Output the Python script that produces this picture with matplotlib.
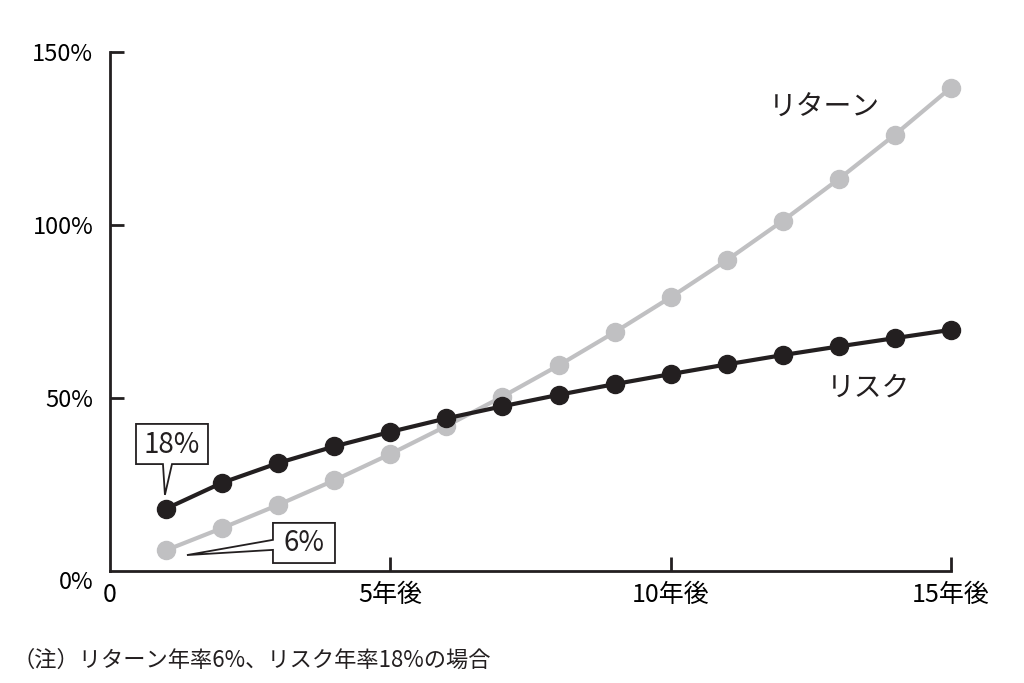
import numpy as np
import matplotlib.pyplot as plt
from matplotlib.patches import Polygon

plt.rcParams['font.family'] = ['Noto Sans CJK JP', 'DejaVu Sans']

years = [1, 2, 3, 4, 5, 6, 7, 8, 9, 10, 11, 12, 13, 14, 15]
# cumulative return (%) and risk (%)
return_pct = [6.0, 12.4, 19.1, 26.2, 33.8, 41.9, 50.4, 59.4, 69.0, 79.1,
              89.8, 101.2, 113.3, 126.1, 139.7]
risk_pct = [18.0, 25.5, 31.2, 36.0, 40.2, 44.1, 47.6, 50.9, 54.0, 56.9,
            59.7, 62.4, 64.9, 67.3, 69.7]

xticks = [0, 5, 10, 15]
xticklabels = ['0', '5年後', '10年後', '15年後']
yticks = [0, 50, 100, 150]
yticklabels = ['0%', '50%', '100%', '150%']

black = '#231f20'
gray = '#c0c0c2'

fig = plt.figure(figsize=(10.24, 6.83), dpi=100)
ax = fig.add_axes([0.1074, 0.164, 0.8213, 0.7599])

ax.plot(years, return_pct, color=gray, lw=3, marker='o', ms=13,
        clip_on=False, zorder=3)
ax.plot(years, risk_pct, color=black, lw=3, marker='o', ms=13,
        clip_on=False, zorder=4)

ax.set_xlim(0, 15)
ax.set_ylim(0, 150)
ax.spines['top'].set_visible(False)
ax.spines['right'].set_visible(False)
for s in ['left', 'bottom']:
    ax.spines[s].set_linewidth(2)
    ax.spines[s].set_color(black)

ax.set_xticks(xticks)
ax.set_xticklabels(xticklabels, fontsize=18)
ax.set_yticks(yticks)
ax.set_yticklabels(yticklabels, fontsize=17)
ax.tick_params(axis='both', direction='in', length=10, width=2, color=black)
ax.tick_params(axis='y', pad=12)
ax.tick_params(axis='x', pad=8)
ax.xaxis.get_majorticklines()[0].set_visible(False)
ax.yaxis.get_majorticklines()[0].set_visible(False)
lbls = ax.get_xticklabels()
lbls[-1].set_horizontalalignment('center')
ylbls = ax.get_yticklabels()
ylbls[0].set_verticalalignment('top')

# callouts
box18 = [(0.464, 42.5), (1.748, 42.5), (1.748, 30.9), (1.106, 30.9),
         (0.98, 22.0), (0.945, 30.9), (0.464, 30.9)]
ax.add_patch(Polygon(box18, closed=True, fc='white', ec=black, lw=1.3,
                     clip_on=False, zorder=5))
ax.text(1.106, 36.5, '18%', fontsize=20, ha='center', va='center',
        color=black, zorder=6)

box6 = [(2.907, 13.9), (4.013, 13.9), (4.013, 2.3), (2.907, 2.3),
        (2.907, 6.1), (1.373, 4.6), (2.907, 9.0)]
ax.add_patch(Polygon(box6, closed=True, fc='white', ec=black, lw=1.3,
                     clip_on=False, zorder=5))
ax.text(3.46, 8.0, '6%', fontsize=20, ha='center', va='center',
        color=black, zorder=6)

ax.text(12.75, 134, 'リターン', fontsize=20, ha='center', va='center',
        color=black)
ax.text(13.52, 53, 'リスク', fontsize=20, ha='center', va='center',
        color=black)

fig.text(0.012, 1 - 660 / 683, '（注）リターン年率6%、リスク年率18%の場合',
         fontsize=16, ha='left', va='center', color=black)

fig.savefig('out.png', dpi=100)
